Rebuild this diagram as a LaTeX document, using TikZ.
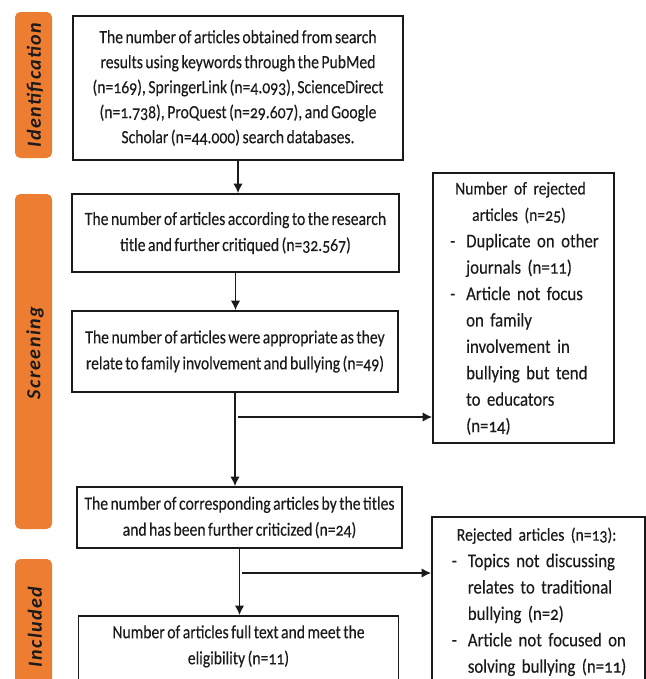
\documentclass[tikz,border=0pt]{standalone}
\usepackage{fontspec}
\setmainfont[Numbers=OldStyle,FakeStretch=0.84,FakeBold=0.2,WordSpace=0.7]{Carlito}
\newfontfamily\sidefont[Numbers=OldStyle,FakeStretch=0.87,FakeBold=0.2,WordSpace=0.6]{Carlito}
\newfontfamily\tabfont[LetterSpace=7]{Carlito}
\usetikzlibrary{arrows.meta}
\definecolor{taborange}{HTML}{ED7D31}
\definecolor{ink}{HTML}{1A1A1A}
\begin{document}
\begin{tikzpicture}[x=0.75pt,y=-0.75pt,
    box/.style={draw=ink,line width=1.4pt,align=center,inner sep=0pt,text=ink,
        font=\fontsize{14}{19.5}\selectfont},
    sidebox/.style={box,align=left,font=\sidefont\fontsize{14.5}{19.8}\selectfont},
    tab/.style={fill=taborange,rounded corners=4pt,minimum width=27.75pt,inner sep=0pt},
    tablabel/.style={rotate=90,text=ink,font=\tabfont\fontsize{15}{15}\selectfont\bfseries\itshape},
    arr/.style={draw=ink,line width=1.1pt,-{Latex[length=7pt,width=7pt]}}]

\clip (0,0) rectangle (646,679);

% stage tabs
   \node[tab,minimum height=109.5pt] at (33.5,85) (tid) {};
   \node[tablabel] at (35,85) (lid) {Identification};
   \node[tab,minimum height=251.25pt] at (33.5,361.5) (tsc) {};
   \node[tablabel] at (35,353) (lsc) {Screening};
   \node[tab,minimum height=105.75pt] at (33.5,629.5) (tin) {};
   \node[tablabel] at (35,627) (lin) {Included};

% main boxes
   \node[box,minimum width=247.5pt,minimum height=108pt,font=\fontsize{14}{18.75}\selectfont] at (238,88) (b1)
      {The number of articles obtained from search\\results using keywords through the PubMed\\(n=169), SpringerLink (n=4.093), ScienceDirect\\(n=1.738), ProQuest (n=29.607), and Google\\Scholar (n=44.000) search databases.};
   \node[box,minimum width=245.25pt,minimum height=58.5pt] at (235.5,233) (b2)
      {The number of articles according to the research\\title and further critiqued (n=32.567)};
   \node[box,minimum width=244.5pt,minimum height=60.75pt] at (235,351.5) (b3)
      {The number of articles were appropriate as they\\relate to family involvement and bullying (n=49)};
   \node[box,minimum width=243.75pt,minimum height=45.75pt] at (239.5,517.5) (b4)
      {The number of corresponding articles by the titles\\and has been further criticized (n=24)};
   \node[box,anchor=north,minimum width=240pt,inner ysep=7pt,text depth=40pt] at (238.5,615) (b5)
      {Number of articles full text and meet the\\eligibility (n=11)};

% rejected boxes
   \node[sidebox,text width=110pt,minimum width=135.75pt,minimum height=202.5pt] at (523.5,308) (r1) {%
      \begin{tabular}{@{}p{12pt}@{}l@{}}
      \multicolumn{2}{@{}l@{}}{\hspace*{3.75pt}\fontsize{13.5}{19.8}\selectfont Number of rejected}\\
      \multicolumn{2}{@{}l@{}}{\hspace*{16.5pt}\fontsize{13.5}{19.8}\selectfont articles (n=25)}\\
      - & Duplicate on other\\
        & journals (n=11)\\
      - & Article not focus\\
        & on family\\
        & involvement in\\
        & bullying but tend\\
        & to educators\\
        & (n=14)
      \end{tabular}};
   \node[sidebox,text width=130pt,anchor=north,minimum width=159.75pt,minimum height=126.75pt] at (538.5,516) (r2) {%
      \begin{tabular}{@{}p{12pt}@{}l@{}}
      \multicolumn{2}{@{}l@{}}{\hspace*{3.75pt}\fontsize{13.5}{19.8}\selectfont Rejected articles (n=13):}\\
      - & Topics not discussing\\
        & relates to traditional\\
        & bullying (n=2)\\
      - & Article not focused on\\
        & solving bullying (n=11)
      \end{tabular}};

% arrows
   \draw[arr] (b1.south) -- (b1.south |- b2.north);
   \draw[arr] (b2.south) -- (b2.south |- b3.north);
   \draw[arr] (b3.south) -- (b3.south |- b4.north);
   \draw[arr] (b4.south) -- (b4.south |- b5.north);

   \coordinate (j1) at (238,417);
   \coordinate (j2) at (242,573);
   \draw[arr] (j1) -- (j1 -| r1.west);
   \draw[arr] (j2) -- (j2 -| r2.west);

\end{tikzpicture}
\end{document}
